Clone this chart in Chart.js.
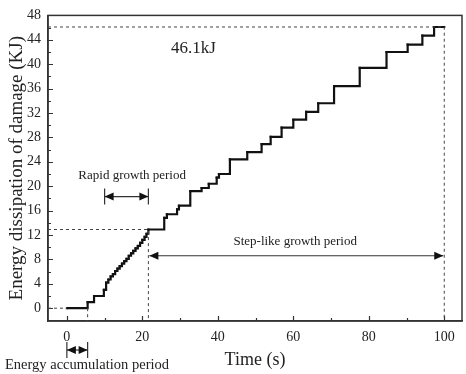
<!doctype html>
<html>
<head>
<title>Energy dissipation of damage</title>
<script src="https://cdn.jsdelivr.net/npm/chart.js@4/dist/chart.umd.min.js"></script>
<style>
html, body { margin: 0; padding: 0; background: #fff; }
#wrap { width: 466px; height: 374px; }
</style>
</head>
<body>
<div id="wrap"><canvas id="canvas" width="466" height="374"></canvas></div>
<script>
// time (s) at which the dissipated energy steps to the new value (kJ)
const times = [0, 5.5, 7.2, 9.8, 10.4, 11.0, 11.6, 12.2, 12.8, 13.4, 14.0, 14.6, 15.2, 15.8, 16.4, 17.0,
	17.6, 18.2, 18.8, 19.4, 20.0, 20.6, 21.1, 21.6, 25.8, 26.5, 29.2, 29.7, 32.7, 35.7, 37.6, 39.7,
	40.3, 43.2, 47.8, 51.6, 54.0, 56.9, 60.0, 63.4, 66.6, 70.8, 77.6, 84.7, 90.3, 94.2, 97.3, 100];
const energy = [0, 1.0, 2.0, 3.0, 4.2, 4.7, 5.2, 5.6, 6.1, 6.5, 6.9, 7.3, 7.7, 8.1, 8.6, 9.0,
	9.4, 9.8, 10.2, 10.7, 11.2, 11.7, 12.2, 12.9, 14.8, 15.4, 16.2, 16.8, 19.2, 19.7, 20.4, 21.4,
	22.0, 24.4, 25.6, 26.9, 28.1, 29.6, 30.9, 32.2, 33.6, 36.4, 39.4, 42.0, 43.2, 44.7, 46.1, 46.1];

const xTicks = [0, 20, 40, 60, 80, 100];
const yTicks = [0, 4, 8, 12, 16, 20, 24, 28, 32, 36, 40, 44, 48];

const peakValue = 46.1;
const rapidEnd = 21.6;
const rapidEndValue = 12.9;
const accumEnd = 5.5;

const serif = '"Liberation Serif", "DejaVu Serif", serif';
const ink = '#222';

function arrowHead(ctx, x, y, dir) {
	ctx.beginPath();
	ctx.moveTo(x, y);
	ctx.lineTo(x - dir * 9, y - 4);
	ctx.lineTo(x - dir * 9, y + 4);
	ctx.closePath();
	ctx.fill();
}

function doubleArrow(ctx, x1, x2, y, bars) {
	ctx.beginPath();
	ctx.moveTo(x1, y);
	ctx.lineTo(x2, y);
	ctx.stroke();
	arrowHead(ctx, x1, y, -1);
	arrowHead(ctx, x2, y, 1);
	if (bars) {
		ctx.beginPath();
		ctx.moveTo(x1, y - 8); ctx.lineTo(x1, y + 8);
		ctx.moveTo(x2, y - 8); ctx.lineTo(x2, y + 8);
		ctx.stroke();
	}
}

const decorations = {
	id: 'decorations',
	afterDraw(chart) {
		const ctx = chart.ctx;
		const xs = chart.scales.x;
		const ys = chart.scales.y;
		const area = chart.chartArea;
		ctx.save();

		// inward ticks
		ctx.strokeStyle = '#333';
		ctx.lineWidth = 1.2;
		ctx.beginPath();
		for (let v = 0; v <= 48; v += 2) {
			const py = Math.round(ys.getPixelForValue(v)) + 0.5;
			const len = v % 4 === 0 ? 5 : 3;
			ctx.moveTo(area.left, py); ctx.lineTo(area.left + len, py);
		}
		for (let v = 0; v <= 100; v += 10) {
			const px = Math.round(xs.getPixelForValue(v)) + 0.5;
			const len = v % 20 === 0 ? 5 : 3;
			ctx.moveTo(px, area.bottom); ctx.lineTo(px, area.bottom - len);
		}
		ctx.stroke();

		// frame
		ctx.lineWidth = 1.5;
		ctx.strokeStyle = '#333';
		ctx.strokeRect(area.left, area.top, area.right - area.left, area.bottom - area.top);

		// dashed guide lines
		ctx.lineWidth = 1;
		ctx.strokeStyle = '#444';
		ctx.setLineDash([3, 3]);
		ctx.beginPath();
		ctx.moveTo(area.left, ys.getPixelForValue(peakValue));
		ctx.lineTo(xs.getPixelForValue(100), ys.getPixelForValue(peakValue));
		ctx.lineTo(xs.getPixelForValue(100), area.bottom);
		ctx.moveTo(area.left, ys.getPixelForValue(rapidEndValue));
		ctx.lineTo(xs.getPixelForValue(rapidEnd), ys.getPixelForValue(rapidEndValue));
		ctx.lineTo(xs.getPixelForValue(rapidEnd), area.bottom);
		ctx.moveTo(xs.getPixelForValue(accumEnd), ys.getPixelForValue(0));
		ctx.lineTo(xs.getPixelForValue(accumEnd), area.bottom);
		ctx.moveTo(area.left, ys.getPixelForValue(0));
		ctx.lineTo(xs.getPixelForValue(0), ys.getPixelForValue(0));
		ctx.stroke();
		ctx.setLineDash([]);

		// arrows
		ctx.strokeStyle = '#333';
		ctx.fillStyle = '#111';
		ctx.lineWidth = 1.2;
		doubleArrow(ctx, xs.getPixelForValue(10), xs.getPixelForValue(rapidEnd), ys.getPixelForValue(18.3), true);
		doubleArrow(ctx, xs.getPixelForValue(rapidEnd) + 1, xs.getPixelForValue(100) - 1, ys.getPixelForValue(8.6), false);
		doubleArrow(ctx, xs.getPixelForValue(0), xs.getPixelForValue(accumEnd), 350, true);

		// texts
		ctx.fillStyle = ink;
		ctx.textBaseline = 'middle';
		ctx.textAlign = 'center';
		ctx.font = '13px ' + serif;
		ctx.fillText('Rapid growth period', xs.getPixelForValue(17.3), ys.getPixelForValue(21.8));
		ctx.fillText('Step-like growth period', xs.getPixelForValue(60.5), ys.getPixelForValue(10.9));
		ctx.font = '14.5px ' + serif;
		ctx.fillText('Energy accumulation period', 87, 365);
		ctx.textAlign = 'left';
		ctx.font = '17px ' + serif;
		ctx.fillText('46.1kJ', xs.getPixelForValue(27.6), ys.getPixelForValue(42.6));
		ctx.restore();
	}
};

window.onload = function() {
	const ctx = document.getElementById('canvas').getContext('2d');
	window.myChart = new Chart(ctx, {
		type: 'line',
		data: {
			datasets: [{
				data: times.map((t, i) => ({x: t, y: energy[i]})),
				stepped: true,
				borderColor: '#111',
				backgroundColor: '#111',
				borderWidth: 2.2,
				pointStyle: 'rect',
				pointRadius: 1.5,
				pointBorderWidth: 0,
				fill: false
			}]
		},
		options: {
			responsive: false,
			animation: false,
			layout: {padding: {top: 10, right: 1, left: 0, bottom: 0}},
			plugins: {
				legend: {display: false},
				tooltip: {enabled: false}
			},
			scales: {
				x: {
					type: 'linear',
					min: -5,
					max: 104.7,
					afterBuildTicks(scale) { scale.ticks = xTicks.map(v => ({value: v})); },
					afterFit(scale) { scale.height = 53; },
					grid: {display: false, drawTicks: false},
					border: {display: true, color: '#333', width: 1.5},
					ticks: {color: ink, font: {family: serif, size: 14}, padding: 8, maxRotation: 0},
					title: {display: true, text: 'Time (s)', color: ink, font: {family: serif, size: 18}, padding: {top: 0, bottom: 3}}
				},
				y: {
					min: -2.1,
					max: 48,
					afterBuildTicks(scale) { scale.ticks = yTicks.map(v => ({value: v})); },
					afterFit(scale) { scale.width = 48; },
					grid: {display: false, drawTicks: false},
					border: {display: true, color: '#333', width: 1.5},
					ticks: {color: ink, font: {family: serif, size: 14}, padding: 7},
					title: {display: true, text: 'Energy dissipation of damage (KJ)', color: ink, font: {family: serif, size: 19}, padding: {top: 6, bottom: 0}}
				}
			}
		},
		plugins: [decorations]
	});
};
</script>
</body>
</html>
